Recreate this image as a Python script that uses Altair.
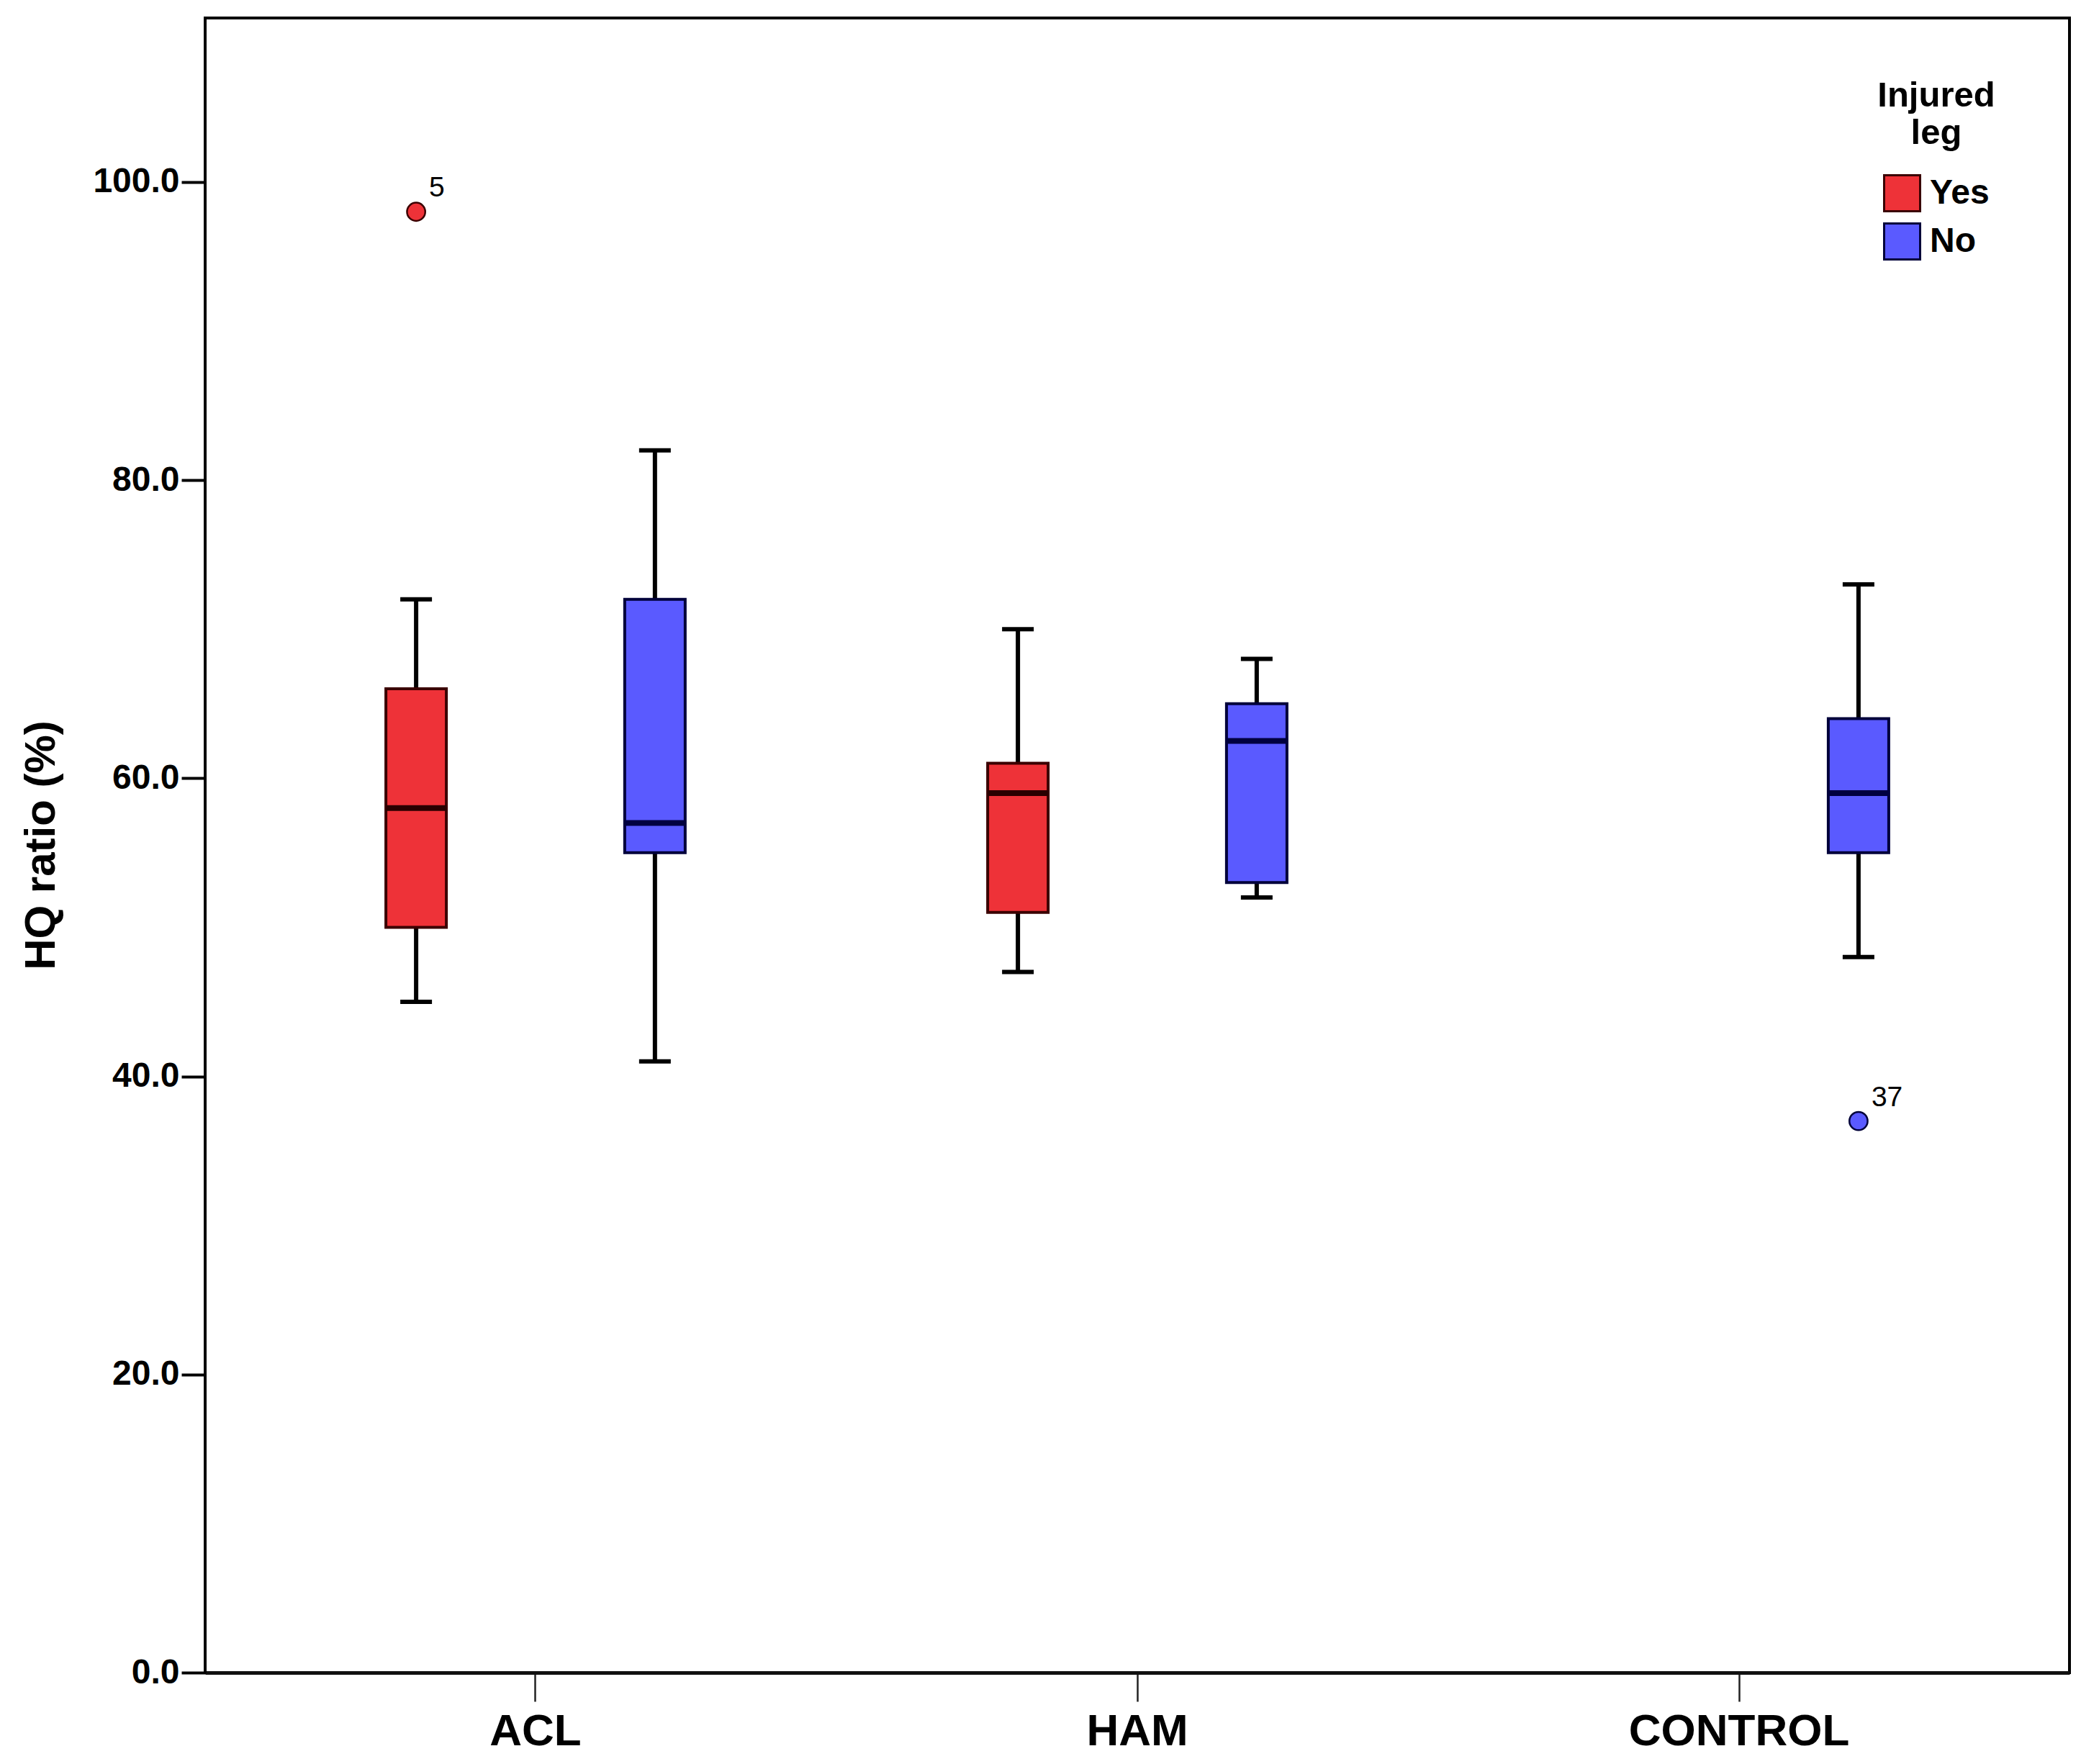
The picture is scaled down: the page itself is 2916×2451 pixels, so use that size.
import altair as alt
import pandas as pd

# ---- data ----
groups = ["ACL", "ACL", "HAM", "HAM", "CONTROL"]
legs = ["Yes", "No", "Yes", "No", "No"]
whisker_low = [45, 41, 47, 52, 48]
q1 = [50, 55, 51, 53, 55]
median = [58, 57, 59, 62.5, 59]
q3 = [66, 72, 61, 65, 64]
whisker_high = [72, 82, 70, 68, 73]

outlier_groups = ["ACL", "CONTROL"]
outlier_legs = ["Yes", "No"]
outlier_values = [98, 37]
outlier_labels = ["5", "37"]

categories = ["ACL", "HAM", "CONTROL"]
leg_levels = ["Yes", "No"]
fill_colors = ["#EE3238", "#5A5AFF"]
edge_colors = ["#3A0000", "#00003A"]
y_ticks = [0, 20, 40, 60, 80, 100]

FONT = "Liberation Sans"

boxes = pd.DataFrame({
    "group": groups, "leg": legs, "lo": whisker_low, "q1": q1,
    "med": median, "q3": q3, "hi": whisker_high,
})
outliers = pd.DataFrame({
    "group": outlier_groups, "leg": outlier_legs,
    "value": outlier_values, "label": outlier_labels,
})

x_enc = alt.X(
    "group:N",
    scale=alt.Scale(type="band", domain=categories, paddingInner=0, paddingOuter=0.049),
    axis=alt.Axis(
        title=None, labelAngle=0, labelFontSize=62, labelFont=FONT,
        labelFontWeight="bold", labelColor="black", labelPadding=11, labelLimit=0,
        tickSize=40, tickWidth=2.5, tickColor="#222222",
        domainColor="#111111", domainWidth=5, grid=False,
    ),
)
xo_enc = alt.XOffset(
    "leg:N",
    scale=alt.Scale(type="band", domain=leg_levels, paddingInner=0, paddingOuter=0.26),
)
y_scale = alt.Scale(domain=[0, 111], nice=False, zero=True)
y_axis = alt.Axis(
    values=y_ticks, format=".1f", title="HQ ratio (%)",
    titleFontSize=60, titleFont=FONT, titleFontWeight="bold", titleColor="black",
    titleX=-228, titleY=1149, titleBaseline="middle", titleAngle=270,
    labelFontSize=48, labelFont=FONT, labelFontWeight="bold", labelColor="black",
    labelPadding=3, tickSize=33, tickWidth=4, tickColor="black",
    domainColor="black", domainWidth=3, grid=False,
)

fill_enc = alt.Fill(
    "leg:N",
    scale=alt.Scale(domain=leg_levels, range=fill_colors),
    legend=alt.Legend(
        title=["Injured", "leg"], orient="none", legendX=2323, legendY=84,
        symbolType="square", symbolSize=2500, symbolStrokeWidth=3,
        symbolStrokeColor="#1a1a1a", symbolOpacity=1,
        labelFontSize=48, labelFont=FONT, labelFontWeight="bold", labelColor="black",
        labelOffset=12, rowPadding=4,
        titleFontSize=49, titleFont=FONT, titleFontWeight="bold", titleColor="black",
        titleAlign="center", titleAnchor="middle", titleLineHeight=52, titlePadding=32,
    ),
)
stroke_enc = alt.Stroke(
    "leg:N", scale=alt.Scale(domain=leg_levels, range=edge_colors), legend=None
)

base = alt.Chart(boxes)

whiskers = base.mark_rule(color="black", strokeWidth=6).encode(
    x=x_enc, xOffset=xo_enc,
    y=alt.Y("lo:Q", scale=y_scale, axis=y_axis), y2="hi:Q",
)
cap_low = base.mark_tick(color="black", thickness=6, size=44, opacity=1).encode(
    x=x_enc, xOffset=xo_enc, y=alt.Y("lo:Q", scale=y_scale, axis=y_axis),
)
cap_high = base.mark_tick(color="black", thickness=6, size=44, opacity=1).encode(
    x=x_enc, xOffset=xo_enc, y=alt.Y("hi:Q", scale=y_scale, axis=y_axis),
)
box = base.mark_bar(size=84, strokeWidth=4, opacity=1).encode(
    x=x_enc, xOffset=xo_enc,
    y=alt.Y("q1:Q", scale=y_scale, axis=y_axis), y2="q3:Q",
    fill=fill_enc, stroke=stroke_enc,
)
med = base.mark_tick(thickness=8, size=84, opacity=1).encode(
    x=x_enc, xOffset=xo_enc,
    y=alt.Y("med:Q", scale=y_scale, axis=y_axis),
    color=alt.Color("leg:N", scale=alt.Scale(domain=leg_levels, range=["#2A0000", "#000040"]), legend=None),
)
pts = alt.Chart(outliers).mark_point(
    filled=True, shape="circle", size=640, strokeWidth=2.5, opacity=1
).encode(
    x=x_enc, xOffset=xo_enc,
    y=alt.Y("value:Q", scale=y_scale, axis=y_axis),
    fill=fill_enc, stroke=stroke_enc,
)
labels = alt.Chart(outliers).mark_text(
    align="left", baseline="middle", dx=18, dy=-33, fontSize=39, font=FONT, color="black"
).encode(
    x=x_enc, xOffset=xo_enc,
    y=alt.Y("value:Q", scale=y_scale, axis=y_axis),
    text="label:N",
)

chart = alt.layer(whiskers, cap_low, cap_high, box, med, pts, labels).properties(
    width=2590, height=2299,
    autosize=alt.AutoSizeParams(type="none"),
    padding={"left": 277, "top": 17, "right": 30, "bottom": 118},
    background="white",
).configure_view(stroke="black", strokeWidth=4)

chart.save("out.html", embed_options={"renderer": "svg", "actions": False})
